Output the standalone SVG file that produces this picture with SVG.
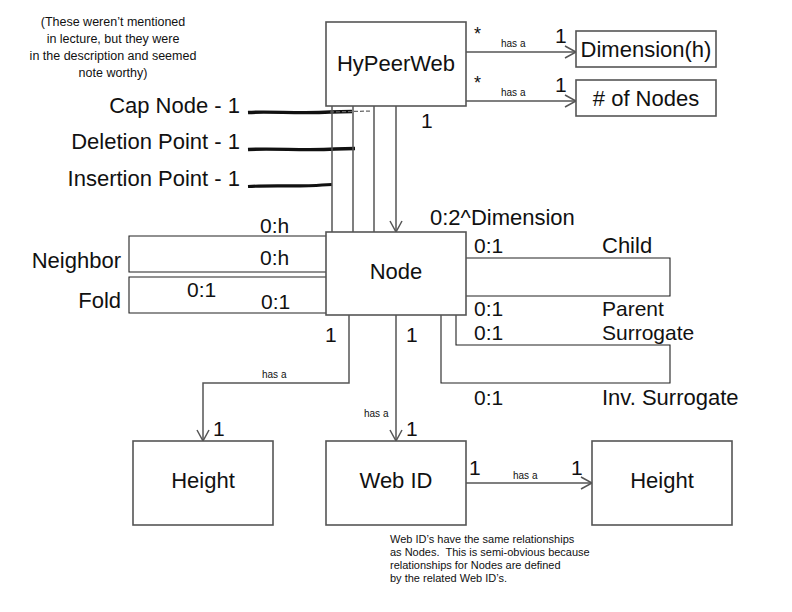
<svg xmlns="http://www.w3.org/2000/svg" width="792" height="612" viewBox="0 0 792 612">
<defs>
<style>
text{font-family:"Liberation Sans",Arial,sans-serif;fill:#111}
.box{fill:#fff;stroke:#555;stroke-width:1.6}
.lbl{font-size:22px;text-anchor:middle}
.m{font-size:21px}
.s{font-size:10px}
.n{font-size:12.5px;text-anchor:middle}
.b{font-size:11px}
.c{fill:none;stroke:#555;stroke-width:1.5}
.t{fill:none;stroke:#222;stroke-width:1.1}
</style>
<marker id="ah" viewBox="0 0 14 14" refX="12" refY="7" markerWidth="14" markerHeight="14" markerUnits="userSpaceOnUse" orient="auto">
<path d="M1,1 L12,7 L1,13" fill="none" stroke="#555" stroke-width="1.5"/>
</marker>
</defs>
<rect width="792" height="612" fill="#fff"/>

<g id="note-top">
<text class="n" x="113" y="26">(These weren’t mentioned</text>
<text class="n" x="113" y="43">in lecture, but they were</text>
<text class="n" x="113" y="60">in the description and seemed</text>
<text class="n" x="113" y="77">note worthy)</text>
</g>

<g id="attrs">
<text class="lbl" x="240" y="113" style="text-anchor:end">Cap Node - 1</text>
<text class="lbl" x="240" y="149" style="text-anchor:end">Deletion Point - 1</text>
<text class="lbl" x="240" y="186" style="text-anchor:end">Insertion Point - 1</text>
<path d="M248,112.5 C270,111 300,114 330,112 L352,111.5" fill="none" stroke="#111" stroke-width="3.4"/>
<path d="M330,112 L372,111" fill="none" stroke="#666" stroke-width="1.2" stroke-dasharray="4,2"/>
<path d="M248,149.5 C275,148 305,151 335,149 L355,148.5" fill="none" stroke="#111" stroke-width="3.4"/>
<path d="M248,186.5 C275,185 300,187 322,185 L332,184.5" fill="none" stroke="#111" stroke-width="3.2"/>
</g>

<g id="connectors">
<path class="c" d="M466,52 H576" marker-end="url(#ah)"/>
<path class="c" d="M466,101 H576" marker-end="url(#ah)"/>
<path class="c" d="M332,106 V232 M353,106 V232 M374,106 V232"/>
<path class="c" d="M396,106 V232" marker-end="url(#ah)"/>
<path class="t" d="M326,236 H129 V272 H326"/>
<path class="t" d="M326,277 H129 V313 H326"/>
<path class="t" d="M466,258 H670 V296 H466"/>
<path class="t" d="M456,315 V345 H670 V383 H441 V315"/>
<path class="c" d="M349,315 V383 H203 V441" marker-end="url(#ah)"/>
<path class="c" d="M396,315 V441" marker-end="url(#ah)"/>
<path class="c" d="M466,483 H592" marker-end="url(#ah)"/>
</g>

<g id="labels">
<text x="474" y="40" style="font-size:18px">*</text>
<text x="474" y="89" style="font-size:18px">*</text>
<text class="s" x="501" y="47">has a</text>
<text class="s" x="501" y="96">has a</text>
<text class="m" x="555" y="43">1</text>
<text class="m" x="555" y="92">1</text>
<text class="m" x="421" y="128">1</text>
<text class="m" x="260" y="233">0:h</text>
<text class="m" x="260" y="265">0:h</text>
<text class="m" x="187" y="297">0:1</text>
<text class="m" x="261" y="309">0:1</text>
<text class="lbl" x="121" y="268" style="text-anchor:end">Neighbor</text>
<text class="lbl" x="121" y="308" style="text-anchor:end">Fold</text>
<text class="lbl" x="430" y="225" style="text-anchor:start">0:2^Dimension</text>
<text class="m" x="474" y="253">0:1</text>
<text class="lbl" x="602" y="253" style="text-anchor:start">Child</text>
<text class="m" x="474" y="316">0:1</text>
<text class="m" x="602" y="316">Parent</text>
<text class="m" x="474" y="340">0:1</text>
<text class="m" x="602" y="340">Surrogate</text>
<text class="m" x="474" y="405">0:1</text>
<text class="lbl" x="602" y="405" style="text-anchor:start">Inv. Surrogate</text>
<text class="m" x="325" y="342">1</text>
<text class="m" x="406" y="342">1</text>
<text class="s" x="262" y="378">has a</text>
<text class="m" x="213" y="436">1</text>
<text class="s" x="364" y="417">has a</text>
<text class="m" x="406" y="436">1</text>
<text class="m" x="469" y="475">1</text>
<text class="s" x="513" y="479">has a</text>
<text class="m" x="571" y="475">1</text>
</g>

<g id="hypeerweb"><rect class="box" x="326" y="22" width="140" height="84"/><text class="lbl" x="396" y="71">HyPeerWeb</text></g>
<g id="dimension"><rect class="box" x="576" y="31" width="140" height="36"/><text class="lbl" x="646" y="57">Dimension(h)</text></g>
<g id="numnodes"><rect class="box" x="576" y="80" width="140" height="36"/><text class="lbl" x="646" y="106"># of Nodes</text></g>
<g id="node"><rect class="box" x="326" y="232" width="140" height="83"/><text class="lbl" x="396" y="279">Node</text></g>
<g id="height1"><rect class="box" x="133" y="441" width="140" height="84"/><text class="lbl" x="203" y="488">Height</text></g>
<g id="webid"><rect class="box" x="326" y="441" width="140" height="84"/><text class="lbl" x="396" y="488">Web ID</text></g>
<g id="height2"><rect class="box" x="592" y="441" width="140" height="84"/><text class="lbl" x="662" y="488">Height</text></g>

<g id="note-bottom">
<text class="b" x="390" y="543">Web ID’s have the same relationships</text>
<text class="b" x="390" y="556">as Nodes.&#160; This is semi-obvious because</text>
<text class="b" x="390" y="569">relationships for Nodes are defined</text>
<text class="b" x="390" y="582">by the related Web ID’s.</text>
</g>
</svg>
